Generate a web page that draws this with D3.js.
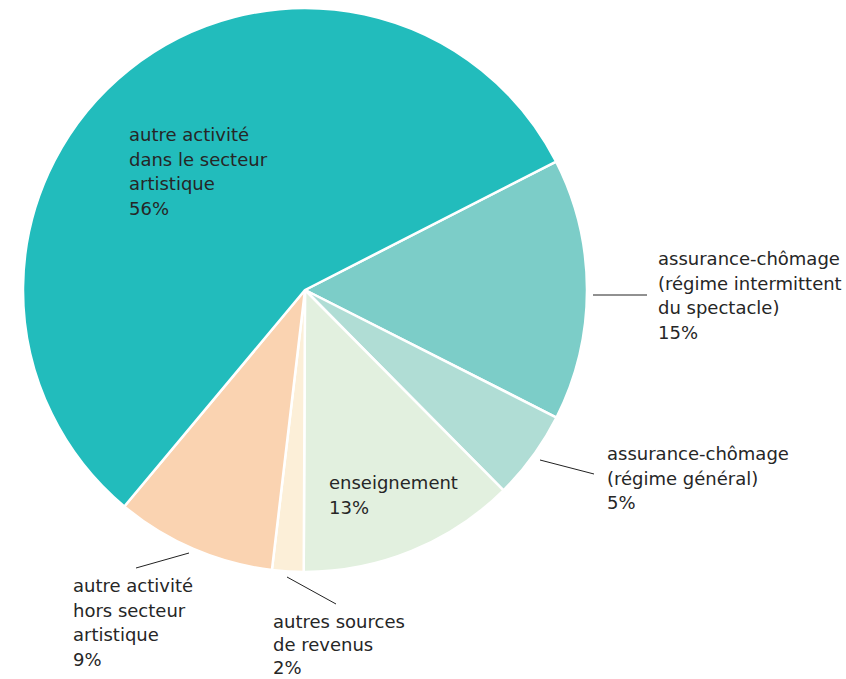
<!DOCTYPE html>
<html><head><meta charset="utf-8">
<script src="https://cdn.jsdelivr.net/npm/d3@7"></script>
<style>body{margin:0;background:#fff}svg{display:block}</style>
</head><body>
<svg id="c" width="846" height="679"></svg>
<script>
const categories = ["assurance-chômage (régime intermittent du spectacle)","assurance-chômage (régime général)","enseignement","autres sources de revenus","autre activité hors secteur artistique","autre activité dans le secteur artistique"];
const values = [15,5.1,12.5,1.8,9.2,56.4];
const colors = ["#7ccdc8","#b0ddd5","#e2f0df","#fcefd8","#fad3b1","#22bcbc"];
const labelLines = [
  ["assurance-chômage","(régime intermittent","du spectacle)","15%"],
  ["assurance-chômage","(régime général)","5%"],
  ["enseignement","13%"],
  ["autres sources","de revenus","2%"],
  ["autre activité","hors secteur","artistique","9%"],
  ["autre activité","dans le secteur","artistique","56%"]
];
const labelPos = [[658,265],[607,460],[329,489],[273,628],[73,592],[129,141]];
const lineGap = [24.5,24.5,24.5,23,24.5,24.5];
const leaders = [[[593,295],[647,295]],[[540,460],[594,474]],null,[[287,577],[336,604]],[[136,568],[189,553]],null];

const svg = d3.select("#c");
const cx=305, cy=290, r=282;
const startA = 62.9*Math.PI/180;
const pie = d3.pie().sort(null).value(d=>d).startAngle(startA).endAngle(startA+2*Math.PI);
const arc = d3.arc().innerRadius(0).outerRadius(r);
const g = svg.append("g").attr("transform",`translate(${cx},${cy})`);
g.selectAll("path").data(pie(values)).join("path")
  .attr("d",arc).attr("fill",(d,i)=>colors[i]).attr("stroke","#fff").attr("stroke-width",2.5).attr("stroke-linejoin","round");

leaders.forEach(l=>{ if(!l) return;
  svg.append("line").attr("x1",l[0][0]).attr("y1",l[0][1]).attr("x2",l[1][0]).attr("y2",l[1][1])
   .attr("stroke","#222").attr("stroke-width",1);
});
labelLines.forEach((lines,i)=>{
  const t = svg.append("text").attr("x",labelPos[i][0]).attr("y",labelPos[i][1])
    .attr("font-family","'DejaVu Sans', sans-serif").attr("font-size",18).attr("fill","#262626");
  lines.forEach((s,j)=>t.append("tspan").attr("x",labelPos[i][0]).attr("dy",j?lineGap[i]:0).text(s));
});
</script>
</body></html>
